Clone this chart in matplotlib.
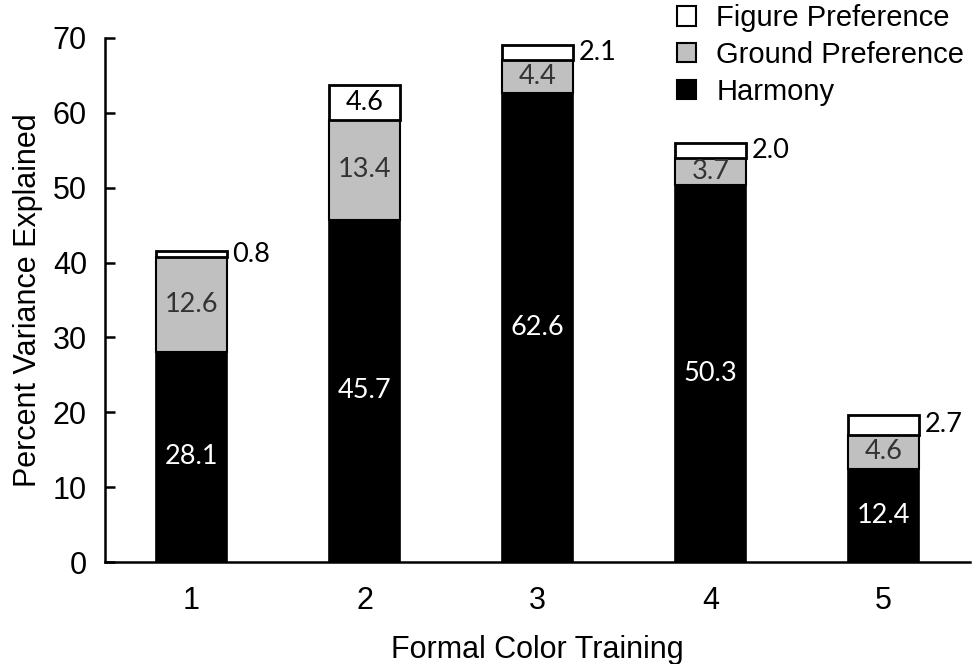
import numpy as np
from matplotlib import pyplot as plt
from matplotlib.patches import Patch

plt.rcParams['font.family'] = ['Liberation Sans', 'DejaVu Sans']

training = ['1', '2', '3', '4', '5']
harmony = [28.1, 45.7, 62.6, 50.3, 12.4]
ground = [12.6, 13.4, 4.4, 3.7, 4.6]
figure_pref = [0.8, 4.6, 2.1, 2.0, 2.7]
# figure preference labels that sit outside the bar (segment too thin)
outside = [True, False, True, True, True]

x = np.arange(1, len(training) + 1)
harmony = np.array(harmony)
ground = np.array(ground)
figure_pref = np.array(figure_pref)
width = 0.41

fig = plt.figure(figsize=(9.77, 6.64), dpi=100)
ax = fig.add_axes([0.1075, 0.1536, 0.8855, 0.7892])

ax.bar(x, harmony, width, color='black', edgecolor='black', linewidth=1.2)
ax.bar(x, ground, width, bottom=harmony, color='#c0c0c0', edgecolor='black', linewidth=1.5)
ax.bar(x, figure_pref, width, bottom=harmony + ground, color='white', edgecolor='black', linewidth=2)

num_font = dict(family=['Lato', 'DejaVu Sans'], fontsize=19.5)
for i in range(len(x)):
    ax.text(x[i], harmony[i] / 2, f'{harmony[i]:.1f}', ha='center', va='center', color='white', **num_font)
    ax.text(x[i], harmony[i] + ground[i] / 2, f'{ground[i]:.1f}', ha='center', va='center', color='#333333', **num_font)
    top_mid = harmony[i] + ground[i] + figure_pref[i] / 2
    if outside[i]:
        ax.text(x[i] + width / 2 + 0.03, top_mid, f'{figure_pref[i]:.1f}', ha='left', va='center', color='black', **num_font)
    else:
        ax.text(x[i], top_mid, f'{figure_pref[i]:.1f}', ha='center', va='center', color='black', **num_font)

ax.set_xlim(0.5, 5.5)
ax.set_ylim(0, 70)
ax.set_yticks(range(0, 71, 10))
ax.set_xticks(x)
ax.set_xticklabels(training)
ax.tick_params(axis='y', direction='in', length=7, width=1.8, labelsize=22, pad=13)
ax.tick_params(axis='x', length=0, labelsize=22, pad=17)
for s in ['top', 'right']:
    ax.spines[s].set_visible(False)
for s in ['left', 'bottom']:
    ax.spines[s].set_linewidth(1.8)

ax.set_ylabel('Percent Variance Explained', fontsize=22, labelpad=7)
ax.set_xlabel('Formal Color Training', fontsize=22, labelpad=14)

handles = [Patch(facecolor='white', edgecolor='black', linewidth=1.5, label='Figure Preference'),
           Patch(facecolor='#c0c0c0', edgecolor='black', linewidth=1.5, label='Ground Preference'),
           Patch(facecolor='black', edgecolor='black', linewidth=1.5, label='Harmony')]
fig.legend(handles=handles, loc='upper right', bbox_to_anchor=(1.005, 1.02), frameon=False,
           fontsize=21, handlelength=0.65, handleheight=0.65, handletextpad=0.7, labelspacing=0.3,
           borderaxespad=0.2)

plt.savefig('out.png', dpi=100)
